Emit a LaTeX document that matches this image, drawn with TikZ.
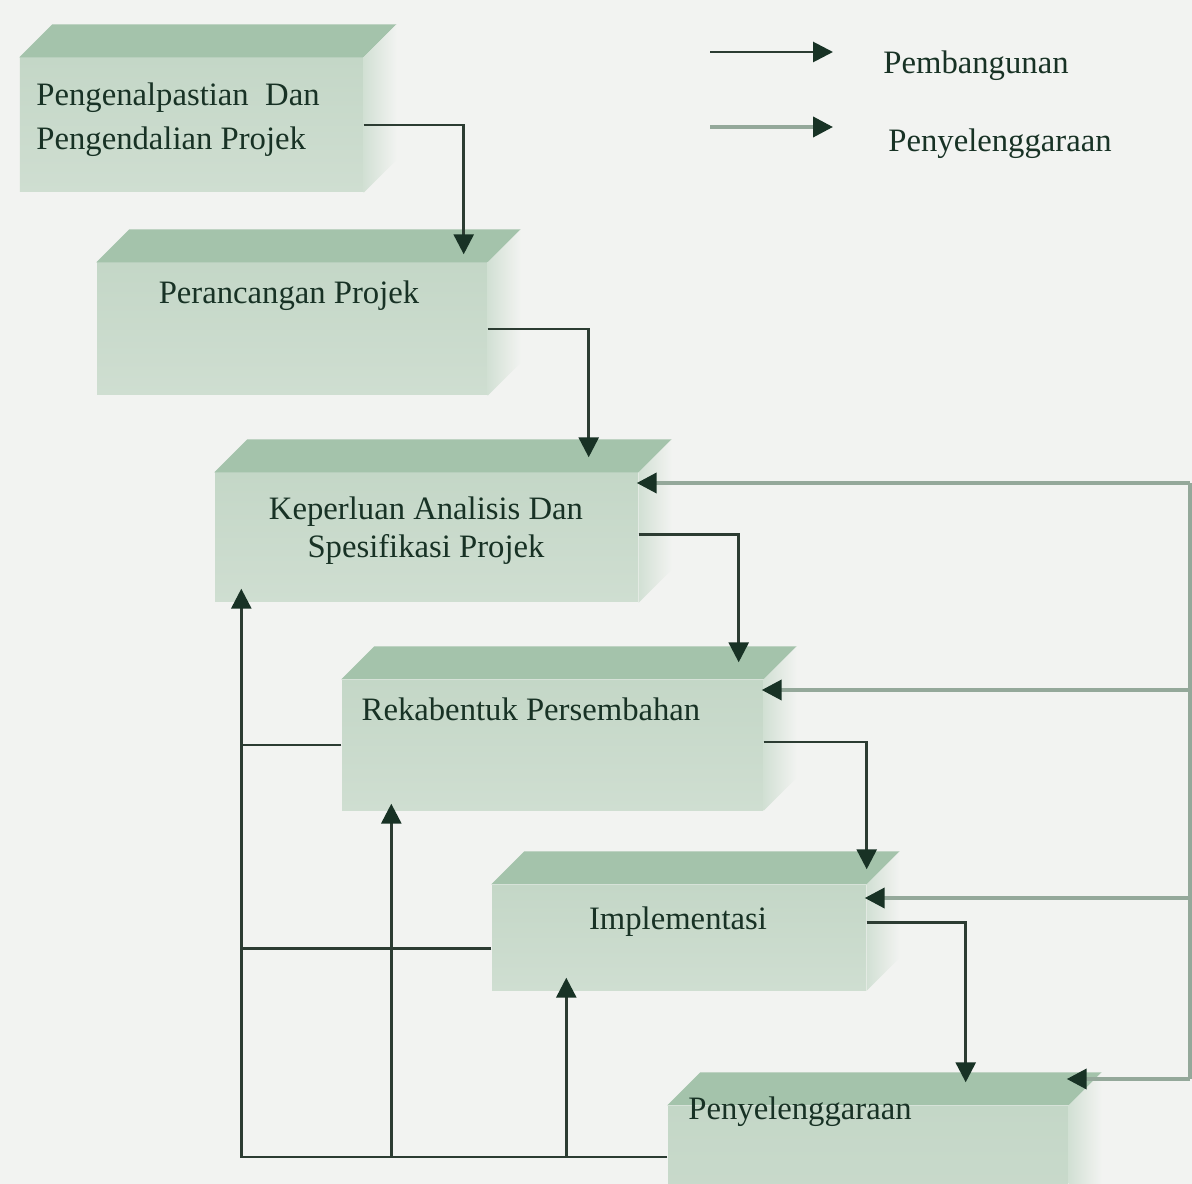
\documentclass[tikz,border=0pt]{standalone}
\usepackage{fontspec}
\setmainfont{Liberation Serif}
\usetikzlibrary{arrows.meta, calc}
\definecolor{cBack}{RGB}{242,243,241}
\definecolor{cFront}{RGB}{196,215,199}
\definecolor{cFrontB}{RGB}{207,222,209}
\definecolor{cTop}{RGB}{164,195,171}
\definecolor{cSide}{RGB}{210,224,212}
\definecolor{cInk}{RGB}{24,50,37}
\definecolor{cDev}{RGB}{44,60,50}
\definecolor{cMnt}{RGB}{148,168,154}
\tikzset{
	face/.style    ={rectangle, inner sep=0pt, top color=cFront, bottom color=cFrontB, draw=none},
	topface/.style ={fill=cTop},
	sideface/.style={left color=cSide, right color=cBack},
	lbl/.style     ={font=\fontsize{9.3}{11}\selectfont, text=cInk, align=center, inner sep=0pt},
	devline/.style ={draw=cDev, line width=0.8pt, -{Triangle[length=2mm, width=2mm, color=cInk]}},
	mntline/.style ={draw=cMnt, line width=1.1pt},
	mntarrow/.style={mntline, -{Triangle[length=2mm, width=2mm, color=cInk]}, shorten >=-0.02cm},
	linkline/.style={draw=cDev, line width=0.7pt},
}

\begin{document}
\begin{tikzpicture}
	\clip (0,0) rectangle (11.92,-11.84);
	\fill[cBack] (0,0) rectangle (11.92,-11.84);
	% front faces of the blocks
	\node[face, minimum width=3.43cm, minimum height=1.34cm] (pk) at (1.915,-1.25) {};
	\node[face, minimum width=3.90cm, minimum height=1.32cm] (pr) at (2.92,-3.29) {};
	\node[face, minimum width=4.23cm, minimum height=1.29cm] (ka) at (4.265,-5.375) {};
	\node[face, minimum width=4.21cm, minimum height=1.30cm] (rp) at (5.525,-7.45) {};
	\node[face, minimum width=3.74cm, minimum height=1.05cm] (im) at (6.79,-9.375) {};
	\node[face, minimum width=4.00cm, minimum height=2.14cm] (py) at (8.68,-12.13) {};
	\foreach \b in {pk,pr,ka,rp,im,py} {
		\fill[topface] (\b.north west) -- ++(0.33,0.33) -- ($(\b.north east)+(0.33,0.33)$) -- (\b.north east) -- cycle;
		\shade[sideface] (\b.north east) -- ++(0.33,0.33) -- ($(\b.south east)+(0.33,0.33)$) -- (\b.south east) -- cycle;
	}
	\node[lbl, align=left, font=\fontsize{9.3}{12.6}\selectfont] (pk-t) at (1.78,-1.20) {Pengenalpastian\ \ Dan\\ Pengendalian Projek};
	\node[lbl] (pr-t) at (2.89,-2.96) {Perancangan Projek};
	\node[lbl, font=\fontsize{9.3}{10.8}\selectfont] (ka-t) at (4.26,-5.31) {Keperluan Analisis Dan\\ Spesifikasi Projek};
	\node[lbl] (rp-t) at (5.31,-7.09) {Rekabentuk Persembahan};
	\node[lbl] (im-t) at (6.78,-9.22) {Implementasi};
	\node[lbl] (py-t) at (8.00,-11.12) {Penyelenggaraan};
	% legend
	\coordinate (lg1a) at (7.10,-0.52); \coordinate (lg1b) at (8.33,-0.52);
	\coordinate (lg2a) at (7.10,-1.27); \coordinate (lg2b) at (8.33,-1.27);
	\draw[devline] (lg1a) -- (lg1b);
	\draw[mntarrow, shorten >=0pt] (lg2a) -- (lg2b);
	\node[lbl] (lgd) at (9.76,-0.654) {Pembangunan};
	\node[lbl] (lgm) at (10.00,-1.44) {Penyelenggaraan};
	% pembangunan
	\draw[devline] (pk.east) -| ([xshift=-0.24cm,yshift=0.08cm]pr.north east);
	\draw[devline] (pr.east) -| ([xshift=-0.50cm,yshift=0.15cm]ka.north east);
	\draw[devline] ([yshift=0.03cm]ka.east) -| ([xshift=-0.25cm,yshift=0.17cm]rp.north east);
	\draw[devline] ([yshift=0.03cm]rp.east) -| ([yshift=0.15cm]im.north east);
	\draw[devline] ([yshift=0.15cm]im.east) -| ([xshift=-1.03cm,yshift=0.23cm]py.north east);
	% penyelenggaraan
	\coordinate (m1) at (11.90,-4.83);
	\coordinate (m2) at (11.90,-6.90);
	\coordinate (m3) at (11.90,-8.98);
	\coordinate (m4) at (11.90,-10.79);
	\draw[mntline] (m4) -- (m1);
	\draw[mntarrow] (m1) -- (m1 -| ka.east);
	\draw[mntarrow] (m2) -- (m2 -| rp.east);
	\draw[mntarrow] (m3) -- (m3 -| im.east);
	\draw[mntarrow] (m4) -- (m4 -| py.east);
	% return lines on the left
	\coordinate (bl) at (0,-11.57);
	\coordinate (kb) at ([xshift=0.27cm,yshift=0.14cm]ka.south west);
	\coordinate (rb) at ([xshift=0.50cm,yshift=0.07cm]rp.south west);
	\coordinate (ib) at ([xshift=0.75cm,yshift=0.13cm]im.south west);
	\coordinate (iw) at ([yshift=-0.11cm]im.west);
	\draw[devline] (py.west |- bl) -- (kb |- bl) -- (kb);
	\draw[devline] (rb |- bl) -- (rb);
	\draw[devline] (ib |- bl) -- (ib);
	\draw[linkline] (rp.west) -- (rp.west -| kb);
	\draw[linkline] (iw) -- (iw -| kb);
\end{tikzpicture}
\end{document}
